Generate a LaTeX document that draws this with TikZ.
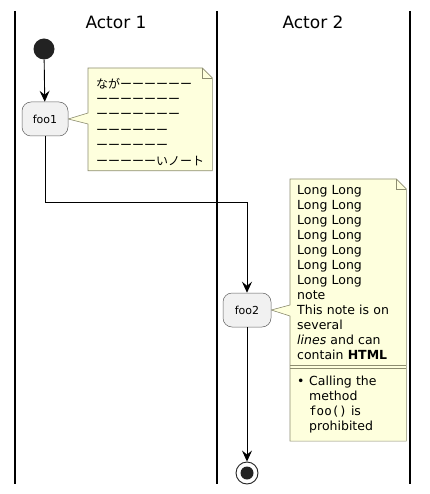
\documentclass[tikz,border=0pt]{standalone}
\usepackage{fontspec}
\setmainfont{DejaVu Sans}
\setmonofont{DejaVu Sans Mono}
\newfontfamily\jpfont{Noto Sans CJK JP}
\usetikzlibrary{arrows.meta,calc,backgrounds}
\definecolor{notebg}{HTML}{FEFFDD}
\definecolor{noteline}{HTML}{8C8C70}
\definecolor{actbg}{HTML}{F1F1F1}
\definecolor{dotfill}{HTML}{222222}

\begin{document}
\begin{tikzpicture}[x=1pt,y=-1pt]
	\tikzset{lane/.style={line width=1.6pt}}
	\tikzset{title/.style={font=\fontsize{17}{20}\selectfont}}
	\tikzset{action/.style={draw=gray!75!black,line width=.5pt,fill=actbg,rounded corners=9pt,%
	    minimum width=46pt,minimum height=34pt,inner sep=0pt,font=\fontsize{11}{13}\selectfont}}
	\tikzset{notetext/.style={anchor=north west,align=left,inner xsep=7pt,inner ysep=6pt,%
	    font=\fontsize{12.5}{15}\selectfont}}
	\tikzset{notebox/.style={draw=noteline,line width=.6pt,fill=notebg}}
	\tikzset{flow/.style={-{Stealth[length=11pt,width=10pt,inset=4pt]},line width=.9pt}}

	\useasboundingbox (0,0) rectangle (429,494);

	% lanes
	\draw[lane] (15,11) -- (15,484);
	\draw[lane] (217,11) -- (217,484);
	\draw[lane] (410,11) -- (410,484);
	\node[title] (actor1) at (116,22) {Actor 1};
	\node[title] (actor2) at (313,22) {Actor 2};

	% vertices
	\node[circle,fill=dotfill,minimum size=21pt,inner sep=0pt] (start) at (44,49) {};
	\node[action] (foo1) at (45,119) {foo1};
	\node[action,minimum width=48pt] (foo2) at (247,310) {foo2};
	\node[circle,draw=dotfill,line width=.9pt,minimum size=22pt,inner sep=0pt] (stop) at (247,473) {};
	\node[circle,fill=dotfill,minimum size=13pt,inner sep=0pt] (stopdot) at (stop) {};

	% notes
	\node[notetext,inner xsep=8pt,inner ysep=5pt,text width=108pt,font=\jpfont\fontsize{12}{15.4}\selectfont] (note1) at (88,68)
	    {\rule{0pt}{15pt}ながーーーーーー\\ーーーーーーー\\ーーーーーーー\\ーーーーーー\\ーーーーーー\\ーーーーーいノート};
	\node[notetext,text width=102pt] (note2) at (290,179)
	    {Long Long\\Long Long\\Long Long\\Long Long\\Long Long\\Long Long\\Long Long\\note\\%
	     This note is on\\several\\\textit{lines} and can\\contain \textbf{HTML}};
	\node[notetext,text width=102pt,inner ysep=7.5pt] (note2b) at ($(note2.south west)+(0,3)$)
	    {\makebox[12pt][l]{•}Calling the\\\hspace*{12pt}method\\\hspace*{12pt}\texttt{foo()} is\\%
	     \hspace*{12pt}prohibited};
	\begin{scope}[on background layer]
	\draw[notebox] (note1.north west) -- ($(note1.north east)+(-10,0)$) -- ($(note1.north east)+(0,10)$)
	    -- (note1.south east) -- (note1.south west) -- ($(note1.west |- foo1.east)+(0,5)$)
	    -- (foo1.east) -- ($(note1.west |- foo1.east)+(0,-6)$) -- cycle;
	\draw[notebox] (note2.north west) -- ($(note2.north east)+(-10,0)$) -- ($(note2.north east)+(0,10)$)
	    -- (note2b.south east) -- (note2b.south west) -- ($(note2.west |- foo2.east)+(0,6)$)
	    -- (foo2.east) -- ($(note2.west |- foo2.east)+(0,-5)$) -- cycle;
	\end{scope}
	\draw[notebox,fill=none] ($(note1.north east)+(-10,0)$) -- ++(0,10) -- ++(10,0);
	\draw[notebox,fill=none] ($(note2.north east)+(-10,0)$) -- ++(0,10) -- ++(10,0);
	\draw[notebox] (note2.south west) -- (note2.south east);
	\draw[notebox] (note2b.north west) -- (note2b.north east);

	% edges
	\draw[flow] (start) -- (foo1);
	\draw[flow] (foo1.south) -- ++(0,66) -| (foo2.north);
	\draw[flow] (foo2) -- (stop);
\end{tikzpicture}
\end{document}
